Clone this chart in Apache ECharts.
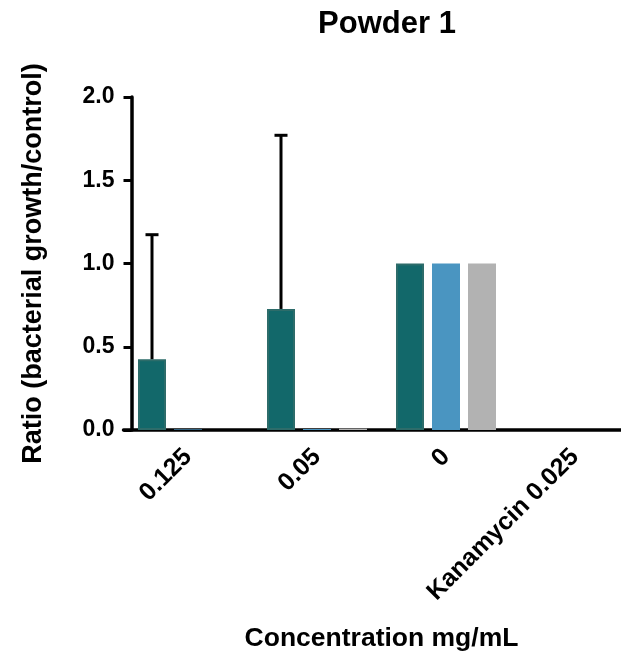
<!DOCTYPE html>
<html>
<head>
<meta charset="utf-8">
<script src="https://cdn.jsdelivr.net/npm/echarts@6/dist/echarts.min.js"></script>
<style>
html,body{margin:0;padding:0;background:#fff;}
#chart{width:621px;height:663px;}
</style>
</head>
<body>
<div id="chart"></div>
<script>
// ---- data ----
const categories = ['0.125', '0.05', '0', 'Kanamycin 0.025'];
const tealValues = [0.425, 0.727, 1.0, 0];
const tealErrorTop = [1.173, 1.77, null, null];
const blueValues = [0.004, 0.006, 1.0, 0];
const grayValues = [0, 0.008, 1.0, 0];
const yTicks = [0, 0.5, 1.0, 1.5, 2.0];

const FONT = '"Liberation Sans", Arial, Helvetica, sans-serif';
const BAR_W = 28, BAR_GAP = 8;

const errData = [];
tealErrorTop.forEach((t, i) => { if (t != null) errData.push([i, tealValues[i], t]); });

const tealData = tealValues.map(v => v === 0 ? {value: v, itemStyle: {borderWidth: 0}} : v);

const chart = echarts.init(document.getElementById('chart'), null, {renderer: 'canvas'});
chart.setOption({
  animation: false,
  backgroundColor: '#ffffff',
  title: {
    text: 'Powder 1', left: 382, top: 4, textAlign: 'center',
    textStyle: {fontFamily: FONT, fontWeight: 'bold', fontSize: 31, color: '#000'}
  },
  grid: {left: 123.5, width: 516, top: 97, height: 333, containLabel: false, outerBoundsMode: 'none'},
  xAxis: {
    type: 'category', data: categories,
    axisLine: {lineStyle: {color: '#000', width: 3.5}},
    axisTick: {alignWithLabel: true, length: 11, lineStyle: {color: '#000', width: 3.5}},
    axisLabel: {interval: 0, rotate: 45, margin: 23, color: '#000', fontFamily: FONT, fontWeight: 'bold', fontSize: 25},
    name: 'Concentration mg/mL', nameLocation: 'middle', nameGap: 195,
    nameTextStyle: {fontFamily: FONT, fontWeight: 'bold', fontSize: 26.5, color: '#000'}
  },
  yAxis: {
    type: 'value', min: 0, max: 2, interval: 0.5, offset: -8,
    splitLine: {show: false},
    axisLine: {show: true, lineStyle: {color: '#000', width: 3.5}},
    axisTick: {show: true, length: 8, lineStyle: {color: '#000', width: 3}},
    axisLabel: {margin: 17, color: '#000', fontFamily: FONT, fontWeight: 'bold', fontSize: 23,
      formatter: v => v.toFixed(1)},
    name: 'Ratio (bacterial growth/control)', nameLocation: 'middle', nameGap: 84,
    nameTextStyle: {fontFamily: FONT, fontWeight: 'bold', fontSize: 27, color: '#000'}
  },
  series: [
    {type: 'bar', data: tealData, barWidth: BAR_W, barGap: (BAR_GAP / BAR_W * 100) + '%',
     itemStyle: {color: '#12686a', borderColor: '#2d6c6a', borderWidth: 2}},
    {type: 'bar', data: blueValues, barWidth: BAR_W,
     itemStyle: {color: '#4a95c1'}},
    {type: 'bar', data: grayValues, barWidth: BAR_W,
     itemStyle: {color: '#b2b2b2'}},
    {type: 'custom', data: errData, z: 5,
     renderItem: function (params, api) {
       const c = api.value(0);
       const lo = api.coord([c, api.value(1)]);
       const hi = api.coord([c, api.value(2)]);
       const x = lo[0] - (BAR_W + BAR_GAP);
       const cap = 6.5;
       const st = {stroke: '#000', lineWidth: 3};
       return {type: 'group', children: [
         {type: 'line', shape: {x1: x, y1: lo[1], x2: x, y2: hi[1]}, style: st},
         {type: 'line', shape: {x1: x - cap, y1: hi[1], x2: x + cap, y2: hi[1]}, style: st}
       ]};
     }}
  ]
});
</script>
</body>
</html>
